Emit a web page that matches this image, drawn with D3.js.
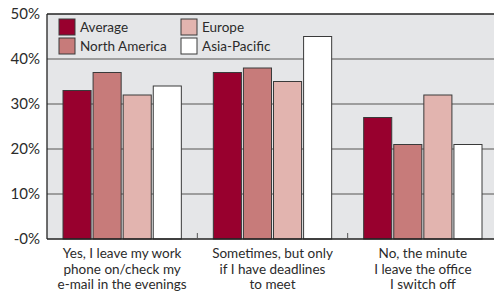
<!DOCTYPE html>
<html>
<head>
<meta charset="utf-8">
<script src="https://cdn.jsdelivr.net/npm/d3@7"></script>
<style>
  body { margin: 0; background: #fff; }
  svg text { font-family: "Lato", "DejaVu Sans", sans-serif; fill: #2b2b2b; }
</style>
</head>
<body>
<svg id="chart" width="494" height="291"></svg>
<script>
// categories and series
const categories = [
  ["Yes, I leave my work", "phone on/check my", "e-mail in the evenings"],
  ["Sometimes, but only", "if I have deadlines", "to meet"],
  ["No, the minute", "I leave the office", "I switch off"]
];
const seriesNames = ["Average", "North America", "Europe", "Asia-Pacific"];
const seriesColors = ["#98002e", "#c77b7a", "#e2b4af", "#ffffff"];
const average = [33, 37, 27];
const northAmerica = [37, 38, 21];
const europe = [32, 35, 32];
const asiaPacific = [34, 45, 21];
const yTicks = [0, 10, 20, 30, 40, 50];

const values = [average, northAmerica, europe, asiaPacific];

const svg = d3.select("#chart");
const margin = { left: 47, top: 14, right: -4, bottom: 52 };
const W = 494, H = 291;
const x0 = margin.left, x1 = W - margin.right;
const y0 = H - margin.bottom, y1 = margin.top;

const x = d3.scaleBand().domain(d3.range(categories.length)).range([x0, x1]).padding(0);
const xs = d3.scaleBand().domain(d3.range(seriesNames.length)).range([16, x.bandwidth() - 16]).paddingInner(0.067);
const y = d3.scaleLinear().domain([0, 50]).range([y0, y1]);

// background
svg.append("rect").attr("x", x0).attr("y", y1).attr("width", x1 - x0).attr("height", y0 - y1).attr("fill", "#e5e6e8");

// gridlines
svg.append("g").selectAll("line").data(yTicks.filter(d => d > 0 && d < 50)).join("line")
  .attr("x1", x0).attr("x2", x1)
  .attr("y1", d => y(d)).attr("y2", d => y(d))
  .attr("stroke", "#858585").attr("stroke-width", 1.4);

// y labels
svg.append("g").selectAll("text").data(yTicks).join("text")
  .attr("x", 40).attr("y", d => y(d) + 5)
  .attr("text-anchor", "end").attr("font-size", 15)
  .text(d => (d === 0 ? "-0" : d) + "%");

// bars
const groups = svg.append("g").selectAll("g").data(categories).join("g")
  .attr("transform", (d, i) => `translate(${x(i)},0)`);
groups.selectAll("rect").data((d, i) => values.map((s, k) => ({ k, v: s[i] }))).join("rect")
  .attr("x", d => xs(d.k)).attr("width", xs.bandwidth())
  .attr("y", d => y(d.v)).attr("height", d => y(0) - y(d.v))
  .attr("fill", d => seriesColors[d.k])
  .attr("stroke", "#3a3a3a").attr("stroke-width", 1);

// axes frame
svg.append("line").attr("x1", x0).attr("x2", x1).attr("y1", y1).attr("y2", y1).attr("stroke", "#222").attr("stroke-width", 1.3);
svg.append("line").attr("x1", x0).attr("x2", x0).attr("y1", y1).attr("y2", y0).attr("stroke", "#222").attr("stroke-width", 1.3);
svg.append("line").attr("x1", x0).attr("x2", x1).attr("y1", y0).attr("y2", y0).attr("stroke", "#222").attr("stroke-width", 1.3);

// category separator ticks
svg.append("g").selectAll("line").data(d3.range(1, categories.length)).join("line")
  .attr("x1", d => x(d)).attr("x2", d => x(d))
  .attr("y1", y0 - 6).attr("y2", y0)
  .attr("stroke", "#555").attr("stroke-width", 1);

// x labels
const xl = svg.append("g").selectAll("text").data(categories).join("text")
  .attr("text-anchor", "middle").attr("font-size", 13.5)
  .attr("transform", (d, i) => `translate(${x(i) + x.bandwidth() / 2},0)`);
xl.selectAll("tspan").data(d => d).join("tspan")
  .attr("x", 0).attr("y", (d, j) => 258 + j * 15.5)
  .text(d => d);

// legend
const legend = svg.append("g").selectAll("g").data(seriesNames).join("g")
  .attr("transform", (d, i) => `translate(${59 + Math.floor(i / 2) * 122},${19 + (i % 2) * 19})`);
legend.append("rect").attr("width", 16).attr("height", 16)
  .attr("fill", (d, i) => seriesColors[i]).attr("stroke", "#3a3a3a").attr("stroke-width", 1);
legend.append("text").attr("x", 21).attr("y", 12.5).attr("font-size", 13.5).text(d => d);
</script>
</body>
</html>
